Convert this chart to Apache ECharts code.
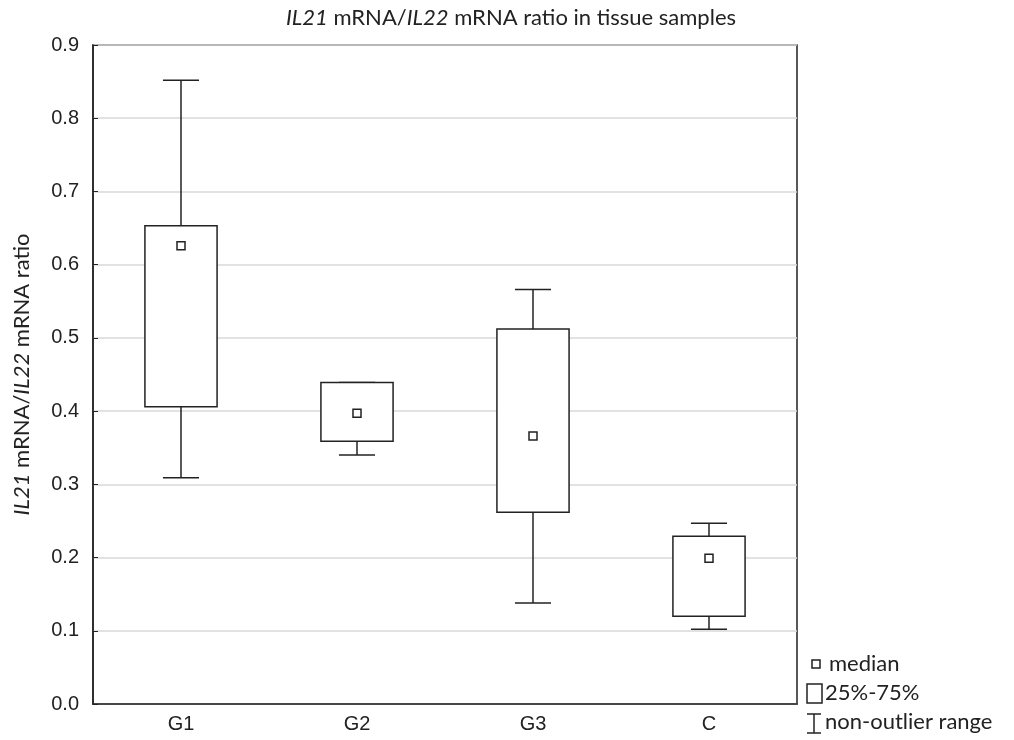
<!DOCTYPE html>
<html>
<head>
<meta charset="utf-8">
<script src="https://cdn.jsdelivr.net/npm/echarts@6/dist/echarts.min.js"></script>
<style>html,body{margin:0;padding:0;background:#fff;}#c{width:1014px;height:740px;}</style>
</head>
<body>
<div id="c"></div>
<script>
var categories = ['G1', 'G2', 'G3', 'C'];
var whiskerLow = [0.309, 0.340, 0.138, 0.102];
var q1 = [0.406, 0.359, 0.262, 0.120];
var median = [0.626, 0.397, 0.366, 0.199];
var q3 = [0.653, 0.439, 0.512, 0.229];
var whiskerHigh = [0.852, 0.439, 0.566, 0.247];

var data = categories.map(function (c, i) {
  return [i, whiskerLow[i], q1[i], median[i], q3[i], whiskerHigh[i]];
});

var lineStyle = { stroke: '#222', lineWidth: 1.5, fill: null };
var TXT = 'Lato';
var FS = 22;

function renderItem(params, api) {
  var xi = api.value(0);
  var band = api.size([1, 0])[0];
  var boxW = band * 0.41;
  var capW = band * 0.205;
  var pLow = api.coord([xi, api.value(1)]);
  var pQ1 = api.coord([xi, api.value(2)]);
  var pMed = api.coord([xi, api.value(3)]);
  var pQ3 = api.coord([xi, api.value(4)]);
  var pHigh = api.coord([xi, api.value(5)]);
  var cx = pQ1[0];
  var children = [];
  children.push({ type: 'line', shape: { x1: cx, y1: pQ3[1], x2: cx, y2: pHigh[1] }, style: lineStyle });
  children.push({ type: 'line', shape: { x1: cx, y1: pQ1[1], x2: cx, y2: pLow[1] }, style: lineStyle });
  children.push({ type: 'line', shape: { x1: cx - capW / 2, y1: pHigh[1], x2: cx + capW / 2, y2: pHigh[1] }, style: lineStyle });
  children.push({ type: 'line', shape: { x1: cx - capW / 2, y1: pLow[1], x2: cx + capW / 2, y2: pLow[1] }, style: lineStyle });
  children.push({ type: 'rect', shape: { x: cx - boxW / 2, y: pQ3[1], width: boxW, height: pQ1[1] - pQ3[1] },
    style: { stroke: '#222', lineWidth: 1.5, fill: '#fff' } });
  var s = 8;
  children.push({ type: 'rect', shape: { x: cx - s / 2, y: pMed[1] - s / 2, width: s, height: s },
    style: { stroke: '#222', lineWidth: 1.5, fill: '#fff' } });
  return { type: 'group', children: children };
}

var chart = echarts.init(document.getElementById('c'));
chart.setOption({
  animation: false,
  title: {
    text: '{i|IL21} mRNA/{i|IL22} mRNA ratio in tissue samples',
    left: 506, top: 2, textAlign: 'center',
    textStyle: {
      fontFamily: TXT, fontSize: FS, fontWeight: 'normal', color: '#222',
      rich: { i: { fontStyle: 'italic', fontFamily: TXT, fontSize: FS, color: '#222' } }
    }
  },
  grid: { left: 93, right: 217, top: 45, bottom: 36, show: true, borderColor: '#222', borderWidth: 1.5, backgroundColor: 'transparent' },
  xAxis: {
    type: 'category', data: categories, boundaryGap: true,
    axisLine: { lineStyle: { color: '#222', width: 1.5 } },
    axisTick: { alignWithLabel: true, inside: true, length: 5, lineStyle: { color: '#222' } },
    axisLabel: { fontFamily: 'Liberation Sans', fontSize: 20, color: '#222', margin: 10 },
    splitLine: { show: false }
  },
  yAxis: {
    type: 'value', min: 0, max: 0.9, interval: 0.1,
    name: '{i|IL21} mRNA/{i|IL22} mRNA ratio',
    nameLocation: 'middle', nameGap: 60, nameRotate: 90,
    nameTextStyle: {
      fontFamily: TXT, fontSize: FS, color: '#222',
      rich: { i: { fontStyle: 'italic', fontFamily: TXT, fontSize: FS, color: '#222' } }
    },
    axisLine: { show: true, lineStyle: { color: '#222', width: 1.5 } },
    axisTick: { show: true, inside: true, length: 5, lineStyle: { color: '#222' } },
    axisLabel: { fontFamily: 'Liberation Sans', fontSize: 20, color: '#222', margin: 14,
      formatter: function (v) { return v.toFixed(1); } },
    splitLine: { show: true, lineStyle: { color: '#d9d9d9', width: 1.5 } }
  },
  series: [{
    type: 'custom', renderItem: renderItem, data: data,
    encode: { x: 0, y: [1, 2, 3, 4, 5] }, z: 10
  }],
  graphic: [
    { type: 'rect', shape: { x: 812, y: 660, width: 8, height: 8 }, style: { stroke: '#222', lineWidth: 1.5, fill: '#fff' } },
    { type: 'text', style: { x: 829, y: 664, text: 'median', fontFamily: TXT, fontSize: FS, fill: '#222', verticalAlign: 'middle' } },
    { type: 'rect', shape: { x: 807, y: 684, width: 15, height: 19 }, style: { stroke: '#222', lineWidth: 1.5, fill: '#fff' } },
    { type: 'text', style: { x: 825, y: 693, text: '25%-75%', fontFamily: TXT, fontSize: FS, fill: '#222', verticalAlign: 'middle' } },
    { type: 'line', shape: { x1: 807, y1: 714, x2: 821, y2: 714 }, style: { stroke: '#222', lineWidth: 1.5 } },
    { type: 'line', shape: { x1: 814, y1: 714, x2: 814, y2: 733 }, style: { stroke: '#222', lineWidth: 1.5 } },
    { type: 'line', shape: { x1: 807, y1: 733, x2: 821, y2: 733 }, style: { stroke: '#222', lineWidth: 1.5 } },
    { type: 'text', style: { x: 825, y: 722, text: 'non-outlier range', fontFamily: TXT, fontSize: FS, fill: '#222', verticalAlign: 'middle' } }
  ]
});
</script>
</body>
</html>
